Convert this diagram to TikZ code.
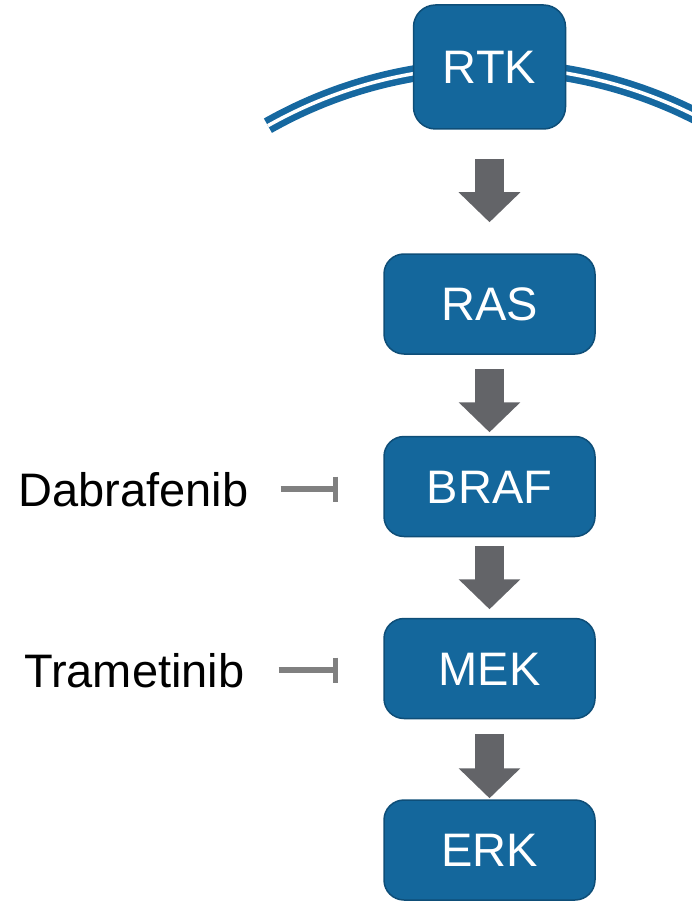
\documentclass[tikz,border=0pt]{standalone}
\usepackage{fontspec}
\setmainfont{Liberation Sans}
\usetikzlibrary{arrows.meta}
\definecolor{boxblue}{RGB}{20,103,156}
\definecolor{boxedge}{RGB}{14,78,120}
\definecolor{membblue}{RGB}{22,104,160}
\definecolor{flowgray}{RGB}{99,100,104}
\definecolor{inhibgray}{RGB}{128,128,128}

\begin{document}
\begin{tikzpicture}[x=1pt,y=1pt,
  protein/.style={draw=boxedge, line width=1.5pt, fill=boxblue, text=white,
    rounded corners=20pt, minimum width=211pt, minimum height=100pt,
    inner sep=0pt, font=\fontsize{47}{50}\selectfont,
    text height=33.7pt, text depth=0pt},
  drug/.style={anchor=base west, inner sep=0pt, font=\fontsize{47}{50}\selectfont,
    text height=33.7pt, text depth=0pt},
  flow/.style={draw=flowgray, line width=29pt, -{Triangle[width=60pt,length=30pt]}},
  inhib/.style={draw=inhibgray, line width=5.5pt, -{Bar[width=25pt]}},
  membrane/.style={draw=membblue, line width=6.5pt, double=white, double distance=3.5pt}
]
\useasboundingbox (0,0) rectangle (692,-901);

% cell membrane, passing behind the receptor
\begin{scope}
  \clip (0,0) rectangle (692,-901);
  \draw[membrane] (267.9,-125.7) arc[start angle=119.5, end angle=60, radius=453pt];
\end{scope}

% pathway proteins
\node[protein, minimum width=152pt, minimum height=124pt, rounded corners=22pt] (rtk) at (489.5,-67) {RTK};
\node[protein] (ras)  at (489.5,-304)   {RAS};
\node[protein] (braf) at (489.5,-486.5) {BRAF};
\node[protein] (mek)  at (489.5,-668.5) {MEK};
\node[protein] (erk)  at (489.5,-850)   {ERK};

% signalling steps
\draw[flow, shorten <=29pt, shorten >=31pt]    (rtk.south)  -- (ras.north);
\draw[flow, shorten <=14pt, shorten >=3.5pt]   (ras.south)  -- (braf.north);
\draw[flow, shorten <=8.5pt, shorten >=8.5pt]  (braf.south) -- (mek.north);
\draw[flow, shorten <=14.5pt, shorten >=1pt]   (mek.south)  -- (erk.north);

% inhibitors
\node[drug] (dab) at (18.3,-506) {Dabrafenib};
\node[drug] (tra) at (23.9,-687) {Trametinib};
\draw[inhib, shorten <=32pt, shorten >=45pt] (dab.east) -- (dab.east -| braf.west);
\draw[inhib, shorten <=34pt, shorten >=45pt] (tra.east) -- (tra.east -| mek.west);
\end{tikzpicture}
\end{document}
